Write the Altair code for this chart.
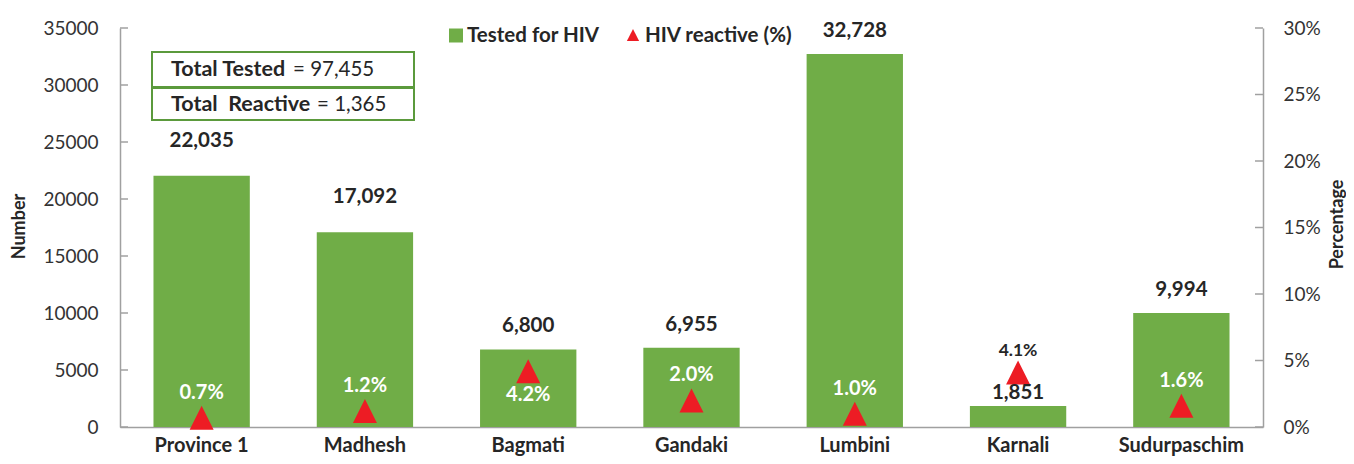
import altair as alt
import pandas as pd

categories = ["Province 1", "Madhesh", "Bagmati", "Gandaki", "Lumbini", "Karnali", "Sudurpaschim"]
tested = [22035, 17092, 6800, 6955, 32728, 1851, 9994]
reactive_pct = [0.7, 1.2, 4.2, 2.0, 1.0, 4.1, 1.6]
left_ticks = [0, 5000, 10000, 15000, 20000, 25000, 30000, 35000]
right_ticks = [0, 5, 10, 15, 20, 25, 30]
legend_labels = ["Tested for HIV", "HIV reactive (%)"]
box_keys = ["Total Tested", "Total\u00a0\u00a0Reactive"]
box_values = ["= 97,455", "= 1,365"]

FONT = "Lato"
GREEN = "#70AD47"
RED = "#ED1C24"
DARK = "#262626"
GRAY = "#A0A0A0"
TRI = "M-1,1L1,1L0,-1Z"

df = pd.DataFrame({"cat": categories, "tested": tested, "pct": reactive_pct})

xenc = alt.X("cat:N", sort=categories,
             scale=alt.Scale(paddingInner=0.41, paddingOuter=0.205),
             axis=alt.Axis(title=None, labelAngle=0, labelFontSize=20, labelFontWeight="bold",
                           labelColor=DARK, labelFont=FONT, tickSize=0, labelPadding=8,
                           domainColor=GRAY, domainWidth=1.5))

lscale = alt.Scale(domain=[0, 35000], nice=False, zero=True)
rscale = alt.Scale(domain=[0, 30], nice=False, zero=True)

base = alt.Chart(df)

bars = base.mark_bar(color=GREEN).encode(
    x=xenc,
    y=alt.Y("tested:Q", scale=lscale,
            axis=alt.Axis(orient="left", values=left_ticks, format="d", tickSize=0, labelPadding=22,
                          domainColor=GRAY, domainWidth=1.5, grid=False, labelFont=FONT, labelFontSize=19,
                          labelColor="#333333", title="Number", titleFont=FONT, titleFontSize=18,
                          titleFontWeight="bold", titleColor=DARK, titleX=-101, titleY=198,
                          titleAngle=-90, titleAlign="center", titleBaseline="middle")),
)

def bar_label(filt, dy):
    return base.transform_filter(filt).mark_text(
        font=FONT, fontSize=20.5, fontWeight="bold", color=DARK, baseline="middle", dy=dy
    ).encode(x=xenc, y=alt.Y("tested:Q", scale=lscale, axis=None),
             text=alt.Text("tested:Q", format=","))

lab_a = bar_label("datum.cat == 'Province 1' || datum.cat == 'Madhesh'", -35)
lab_b = bar_label("datum.cat != 'Province 1' && datum.cat != 'Madhesh' && datum.cat != 'Karnali'", -23)
lab_c = bar_label("datum.cat == 'Karnali'", -13)

lticks = alt.Chart(pd.DataFrame({"v": left_ticks})).mark_rule(color=GRAY, strokeWidth=1.5).encode(
    y=alt.Y("v:Q", scale=lscale, axis=None), x=alt.value(0), x2=alt.value(8))

tri = base.mark_point(shape=TRI, size=576, filled=True, color=RED, opacity=1).encode(
    x=xenc,
    y=alt.Y("pct:Q", scale=rscale,
            axis=alt.Axis(orient="right", values=right_ticks, labelExpr="datum.value + '%'", tickSize=0,
                          labelPadding=20, domainColor=GRAY, domainWidth=1.5, grid=False, labelFont=FONT,
                          labelFontSize=19, labelColor="#333333", title="Percentage", titleFont=FONT,
                          titleFontSize=18, titleFontWeight="bold", titleColor=DARK, titleX=74, titleY=196,
                          titleAngle=-90, titleAlign="center", titleBaseline="middle")),
)

def pct_label(filt, dy, color, size):
    return base.transform_filter(filt).transform_calculate(
        lbl="format(datum.pct, '.1f') + '%'"
    ).mark_text(font=FONT, fontSize=size, fontWeight="bold", color=color, baseline="middle", dy=dy
    ).encode(x=xenc, y=alt.Y("pct:Q", scale=rscale, axis=None), text="lbl:N")

p_a = pct_label("datum.cat != 'Bagmati' && datum.cat != 'Karnali'", -25, "white", 20)
p_b = pct_label("datum.cat == 'Bagmati'", 24, "white", 20)
p_c = pct_label("datum.cat == 'Karnali'", -21, DARK, 17.5)

rticks = alt.Chart(pd.DataFrame({"v": right_ticks})).mark_rule(color=GRAY, strokeWidth=1.5).encode(
    y=alt.Y("v:Q", scale=rscale, axis=None), x=alt.value(1135), x2=alt.value(1143))

# legend
leg_sq = alt.Chart(alt.Data(values=[{"t": legend_labels[0]}])).mark_square(
    size=196, color=GREEN, opacity=1).encode(x=alt.value(336), y=alt.value(7.5))
leg_t1 = alt.Chart(alt.Data(values=[{"t": legend_labels[0]}])).mark_text(
    font=FONT, fontSize=20.5, fontWeight="bold", color=DARK, align="left", baseline="middle").encode(
    x=alt.value(347), y=alt.value(7.5), text="t:N")
leg_tri = alt.Chart(alt.Data(values=[{"t": legend_labels[1]}])).mark_point(
    shape=TRI, size=150, filled=True, color=RED, opacity=1).encode(x=alt.value(513), y=alt.value(7))
leg_t2 = alt.Chart(alt.Data(values=[{"t": legend_labels[1]}])).mark_text(
    font=FONT, fontSize=20.5, fontWeight="bold", color=DARK, align="left", baseline="middle").encode(
    x=alt.value(525), y=alt.value(7.5), text="t:N")

# totals box
box_rows = []
for i, (k, v) in enumerate(zip(box_keys, box_values)):
    box = alt.Chart(alt.Data(values=[{"k": k}])).mark_rect(
        fill="white", stroke="#5B9A3C", strokeWidth=2).encode(
        x=alt.value(32), x2=alt.value(294),
        y=alt.value(24 if i == 0 else 60), y2=alt.value(59 if i == 0 else 92))
    kt = alt.Chart(alt.Data(values=[{"k": k}])).mark_text(
        font=FONT, fontSize=21.5, fontWeight="bold", color=DARK, align="left", baseline="middle").encode(
        x=alt.value(51), y=alt.value(42 if i == 0 else 77), text="k:N")
    vt = alt.Chart(alt.Data(values=[{"v": v}])).mark_text(
        font=FONT, fontSize=20.5, color=DARK, align="left", baseline="middle").encode(
        x=alt.value(173 if i == 0 else 197), y=alt.value(42 if i == 0 else 77), text="v:N")
    box_rows += [box, kt, vt]

chart = alt.layer(bars, tri, lab_a, lab_b, lab_c, lticks, p_a, p_b, p_c, rticks,
                  leg_sq, leg_t1, leg_tri, leg_t2, *box_rows).resolve_scale(
    y="independent").properties(
    width=1143, height=399,
    autosize=alt.AutoSizeParams(type="none"),
    padding={"left": 112, "top": 20, "right": 83, "bottom": 29},
    background="white",
).configure_view(stroke=None)

chart.save("out.html", embed_options={"renderer": "svg", "actions": False})
